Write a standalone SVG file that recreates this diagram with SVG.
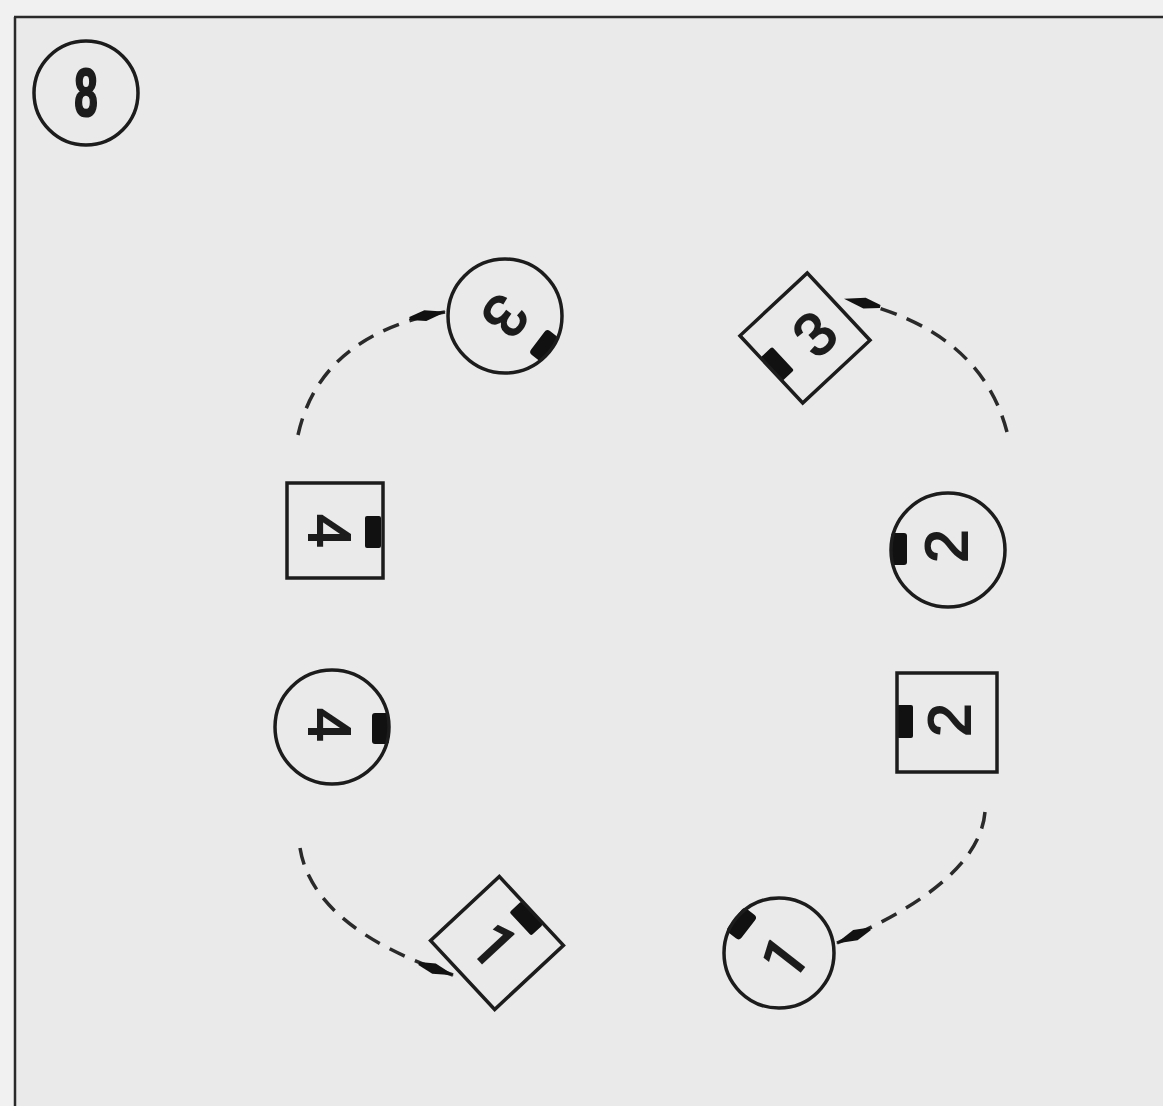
<svg xmlns="http://www.w3.org/2000/svg" width="1163" height="1106" viewBox="0 0 1163 1106">
<style>
.sh{fill:none;stroke:#1c1c1c;stroke-width:3.5}
.tab{fill:#111}
.dg{font-family:"Liberation Sans",Arial,sans-serif;font-size:60px;fill:#1c1c1c;stroke:#1c1c1c;stroke-width:2;text-anchor:middle;dominant-baseline:central}
.one{font-family:Roboto,"Open Sans",sans-serif}
.cn{fill:none;stroke:#2a2a2a;stroke-width:3.5;stroke-dasharray:17 11}
</style>
<defs>
<marker id="ah" markerUnits="userSpaceOnUse" markerWidth="40" markerHeight="16" viewBox="-36 -8 38 16" refX="0" refY="0" orient="auto">
<path d="M1,0 L-20,-5.5 L-36,-1.5 L-36,1.5 L-20,5.5 Z" fill="#111"/>
</marker>
</defs>
<rect x="0" y="0" width="1163" height="1106" fill="#f1f1f1"/>
<rect x="15" y="17" width="1148" height="1089" fill="#eaeaea"/>
<g id="frame" stroke="#2a2a2a" stroke-width="2.5" fill="none">
<line x1="14" y1="17" x2="1163" y2="17"/>
<line x1="15" y1="17" x2="15" y2="1106"/>
</g>
<g id="label8">
<circle class="sh" cx="86" cy="93" r="52"/>
<text class="dg" transform="translate(86,93) scale(0.62,1)" style="font-size:68px;font-weight:bold" x="0" y="0">8</text>
</g>
<g id="connectors">
<path class="cn" d="M298,435 Q320,335 445,312" marker-end="url(#ah)"/>
<path class="cn" d="M1007,432 Q980,328 845,299" marker-end="url(#ah)"/>
<path class="cn" d="M300,848 Q313,928 453,975" marker-end="url(#ah)"/>
<path class="cn" d="M985,812 Q979,882 837,943" marker-end="url(#ah)"/>
</g>
<g id="circle3" transform="translate(505,316)">
<rect class="tab" x="41" y="-15" width="16" height="30" rx="4" transform="rotate(37)"/>
<circle class="sh" r="57"/>
<text class="dg" transform="rotate(127)">3</text>
</g>
<g id="square3" transform="translate(805,338) rotate(47)">
<rect class="tab" x="-16" y="30" width="32" height="16" rx="2"/>
<rect class="sh" x="-46" y="-46" width="92" height="92"/>
<text class="dg" transform="translate(4,-10) rotate(-90)">3</text>
</g>
<g id="square4" transform="translate(335,531)">
<rect class="tab" x="30" y="-15" width="16" height="32" rx="2"/>
<rect class="sh" x="-48" y="-48" width="96" height="95"/>
<text class="dg" transform="translate(-6,0) rotate(90)">4</text>
</g>
<g id="circle2" transform="translate(948,550)">
<rect class="tab" x="-57" y="-17" width="16" height="32" rx="3"/>
<circle class="sh" r="57"/>
<text class="dg" transform="translate(-2,-4) rotate(-90)">2</text>
</g>
<g id="circle4" transform="translate(332,727)">
<rect class="tab" x="40" y="-14" width="17" height="31" rx="3"/>
<circle class="sh" r="57"/>
<text class="dg" transform="translate(-3,-2) rotate(90)">4</text>
</g>
<g id="square2" transform="translate(947,722)">
<rect class="tab" x="-50" y="-17" width="16" height="33" rx="2"/>
<rect class="sh" x="-50" y="-49" width="100" height="99"/>
<text class="dg" transform="translate(2,-2) rotate(-90)">2</text>
</g>
<g id="square1" transform="translate(497,943) rotate(47)">
<rect class="tab" x="-14" y="-46" width="32" height="16" rx="2"/>
<rect class="sh" x="-47" y="-47" width="94" height="94"/>
<text class="dg one" transform="translate(0,4)">1</text>
</g>
<g id="circle1" transform="translate(779,953)">
<rect class="tab" x="39" y="-15" width="17" height="30" rx="4" transform="rotate(218)"/>
<circle class="sh" r="55"/>
<text class="dg one" transform="translate(6,5) rotate(-52)">1</text>
</g>
</svg>
